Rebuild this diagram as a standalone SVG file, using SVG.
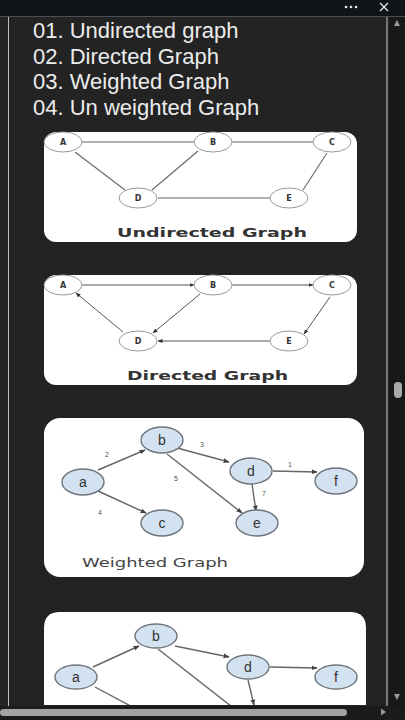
<svg xmlns="http://www.w3.org/2000/svg" width="405" height="720" viewBox="0 0 405 720">
<style>
.list{font-family:"Liberation Sans",Arial,sans-serif;font-size:22px;fill:#ececec}
.card{fill:#ffffff}
.wn{fill:#ffffff;stroke:#9a9a9a;stroke-width:1}
.wl{font-family:"DejaVu Sans",Verdana,sans-serif;font-weight:bold;font-size:8px;fill:#333;text-anchor:middle}
.bn{fill:#d3e2f0;stroke:#6f747a;stroke-width:1.4}
.bl{font-family:"Liberation Sans",Arial,sans-serif;font-size:14px;fill:#333;text-anchor:middle}
.e{stroke:#666;stroke-width:1.1;fill:none}
.ea{stroke:#555;stroke-width:1;fill:none;marker-end:url(#ah)}
.eb{stroke:#666;stroke-width:1.4;fill:none;marker-end:url(#ah2)}
.wt{font-family:"Liberation Sans",Arial,sans-serif;font-size:7px;fill:#555;text-anchor:middle}
.cap{font-family:"DejaVu Sans",Verdana,sans-serif;font-weight:bold;font-size:12.5px;fill:#333}
.cap2{font-family:"DejaVu Sans",Verdana,sans-serif;font-size:13px;fill:#444}
</style>
<defs>
<marker id="ah" viewBox="0 0 10 10" refX="9" refY="5" markerWidth="5" markerHeight="5" orient="auto" markerUnits="userSpaceOnUse"><path d="M0,1 L10,5 L0,9 Z" fill="#333"/></marker>
<marker id="ah2" viewBox="0 0 10 10" refX="9" refY="5" markerWidth="6" markerHeight="6" orient="auto" markerUnits="userSpaceOnUse"><path d="M0,1 L10,5 L0,9 Z" fill="#444"/></marker>
<clipPath id="c4"><rect x="44" y="611" width="322" height="94"/></clipPath>
</defs>
<!-- window chrome -->
<rect x="0" y="0" width="405" height="720" fill="#232323"/>
<rect x="0" y="0" width="405" height="16" fill="#111518"/>
<line x1="0" y1="16.5" x2="405" y2="16.5" stroke="#4a4f55" stroke-width="1"/>
<g fill="#e8e8e8"><circle cx="346" cy="7" r="1.3"/><circle cx="351" cy="7" r="1.3"/><circle cx="356" cy="7" r="1.3"/></g>
<path d="M380,3 L388,11 M388,3 L380,11" stroke="#e8e8e8" stroke-width="1.3"/>
<line x1="8.5" y1="17" x2="8.5" y2="707" stroke="#bdbdbd" stroke-width="1"/>
<rect x="389" y="17" width="16" height="690" fill="#181818"/>
<line x1="387" y1="17" x2="387" y2="707" stroke="#c8c8c8" stroke-width="1"/>
<rect x="394" y="382" width="8" height="16" rx="4" fill="#a9a9a9"/>
<path d="M394,26 L397,20 L400,26 Z" fill="#9a9a9a"/>
<path d="M394,694 L397,700 L400,694 Z" fill="#9a9a9a"/>
<rect x="0" y="706" width="405" height="14" fill="#1b1b1b"/>
<rect x="0" y="709" width="347" height="7" rx="3.5" fill="#a3a3a3"/>
<path d="M381,708.5 L386,712 L381,715.5 Z" fill="#9a9a9a"/>

<!-- list text -->
<g id="list">
<text class="list" x="33" y="38">01. Undirected graph</text>
<text class="list" x="33" y="64">02. Directed Graph</text>
<text class="list" x="33" y="89">03. Weighted Graph</text>
<text class="list" x="33" y="115">04. Un weighted Graph</text>
</g>

<!-- card 1: undirected -->
<g id="card1">
<rect class="card" x="44" y="132" width="313" height="110" rx="12"/>
<g id="c1-edges">
<line class="e" x1="82" y1="142" x2="194" y2="142"/>
<line class="e" x1="232" y1="142" x2="313" y2="142"/>
<line class="e" x1="75" y1="152" x2="125" y2="190"/>
<line class="e" x1="198" y1="151" x2="152" y2="190"/>
<line class="e" x1="327" y1="153" x2="303" y2="190"/>
<line class="e" x1="158" y1="198" x2="270" y2="198"/>
</g>
<g id="c1-A"><ellipse class="wn" cx="63" cy="142" rx="19" ry="10"/><text class="wl" x="63" y="145">A</text></g>
<g id="c1-B"><ellipse class="wn" cx="213" cy="142" rx="19" ry="10"/><text class="wl" x="213" y="145">B</text></g>
<g id="c1-C"><ellipse class="wn" cx="332" cy="142" rx="19" ry="10"/><text class="wl" x="332" y="145">C</text></g>
<g id="c1-D"><ellipse class="wn" cx="138" cy="198" rx="19" ry="10"/><text class="wl" x="138" y="201">D</text></g>
<g id="c1-E"><ellipse class="wn" cx="289" cy="198" rx="19" ry="10"/><text class="wl" x="289" y="201">E</text></g>
<text class="cap" x="117" y="237" textLength="190" lengthAdjust="spacingAndGlyphs">Undirected Graph</text>
</g>

<!-- card 2: directed -->
<g id="card2">
<rect class="card" x="44" y="275" width="313" height="110" rx="12"/>
<g id="c2-edges">
<line class="ea" x1="82" y1="285" x2="194" y2="285"/>
<line class="ea" x1="232" y1="285" x2="313" y2="285"/>
<line class="ea" x1="123" y1="332" x2="76" y2="293"/>
<line class="ea" x1="200" y1="294" x2="153" y2="333"/>
<line class="ea" x1="330" y1="297" x2="304" y2="334"/>
<line class="ea" x1="270" y1="341" x2="158" y2="341"/>
</g>
<g id="c2-A"><ellipse class="wn" cx="63" cy="285" rx="19" ry="10"/><text class="wl" x="63" y="288">A</text></g>
<g id="c2-B"><ellipse class="wn" cx="213" cy="285" rx="19" ry="10"/><text class="wl" x="213" y="288">B</text></g>
<g id="c2-C"><ellipse class="wn" cx="332" cy="285" rx="19" ry="10"/><text class="wl" x="332" y="288">C</text></g>
<g id="c2-D"><ellipse class="wn" cx="138" cy="341" rx="19" ry="10"/><text class="wl" x="138" y="344">D</text></g>
<g id="c2-E"><ellipse class="wn" cx="289" cy="341" rx="19" ry="10"/><text class="wl" x="289" y="344">E</text></g>
<text class="cap" x="127" y="380" textLength="161" lengthAdjust="spacingAndGlyphs">Directed Graph</text>
</g>

<!-- card 3: weighted -->
<g id="card3">
<rect class="card" x="44" y="418" width="320" height="159" rx="16"/>
<g id="c3-edges">
<line class="eb" x1="98" y1="470" x2="145" y2="450"/>
<line class="eb" x1="177" y1="448" x2="229" y2="462"/>
<line class="eb" x1="167" y1="454" x2="242" y2="513"/>
<line class="eb" x1="98" y1="491" x2="146" y2="513"/>
<line class="eb" x1="273" y1="471" x2="317" y2="472"/>
<line class="eb" x1="252" y1="484" x2="256" y2="511"/>
</g>
<g id="c3-weights">
<text class="wt" x="107" y="457">2</text>
<text class="wt" x="202" y="447">3</text>
<text class="wt" x="176" y="481">5</text>
<text class="wt" x="290" y="467">1</text>
<text class="wt" x="264" y="496">7</text>
<text class="wt" x="100" y="515">4</text>
</g>
<g id="c3-b"><ellipse class="bn" cx="162" cy="440" rx="21" ry="13"/><text class="bl" x="162" y="445">b</text></g>
<g id="c3-a"><ellipse class="bn" cx="83" cy="482" rx="21" ry="13"/><text class="bl" x="83" y="487">a</text></g>
<g id="c3-c"><ellipse class="bn" cx="162" cy="523" rx="21" ry="13"/><text class="bl" x="162" y="528">c</text></g>
<g id="c3-d"><ellipse class="bn" cx="251" cy="471" rx="21" ry="13"/><text class="bl" x="251" y="476">d</text></g>
<g id="c3-e"><ellipse class="bn" cx="257" cy="523" rx="21" ry="13"/><text class="bl" x="257" y="528">e</text></g>
<g id="c3-f"><ellipse class="bn" cx="336" cy="481" rx="21" ry="13"/><text class="bl" x="336" y="486">f</text></g>
<text class="cap2" x="82" y="567" textLength="146" lengthAdjust="spacingAndGlyphs">Weighted Graph</text>
</g>

<!-- card 4: unweighted (cut off) -->
<g id="card4">
<path class="card" d="M44,705 L44,628 Q44,612 60,612 L350,612 Q366,612 366,628 L366,705 Z"/>
<g id="c4-edges" clip-path="url(#c4)">
<line class="eb" x1="93" y1="667" x2="139" y2="646"/>
<line class="eb" x1="175" y1="646" x2="229" y2="657"/>
<line class="e" style="stroke-width:1.4" x1="158" y1="649" x2="236" y2="710"/>
<line class="e" style="stroke-width:1.4" x1="95" y1="687" x2="138" y2="710"/>
<line class="eb" x1="270" y1="667" x2="317" y2="668"/>
<line class="eb" x1="248" y1="680" x2="254" y2="705"/>
</g>
<g id="c4-b"><ellipse class="bn" cx="156" cy="636" rx="21" ry="12"/><text class="bl" x="156" y="641">b</text></g>
<g id="c4-a"><ellipse class="bn" cx="76" cy="677" rx="21" ry="12"/><text class="bl" x="76" y="682">a</text></g>
<g id="c4-d"><ellipse class="bn" cx="248" cy="667" rx="21" ry="12"/><text class="bl" x="248" y="672">d</text></g>
<g id="c4-f"><ellipse class="bn" cx="336" cy="677" rx="21" ry="12"/><text class="bl" x="336" y="682">f</text></g>
</g>
</svg>
